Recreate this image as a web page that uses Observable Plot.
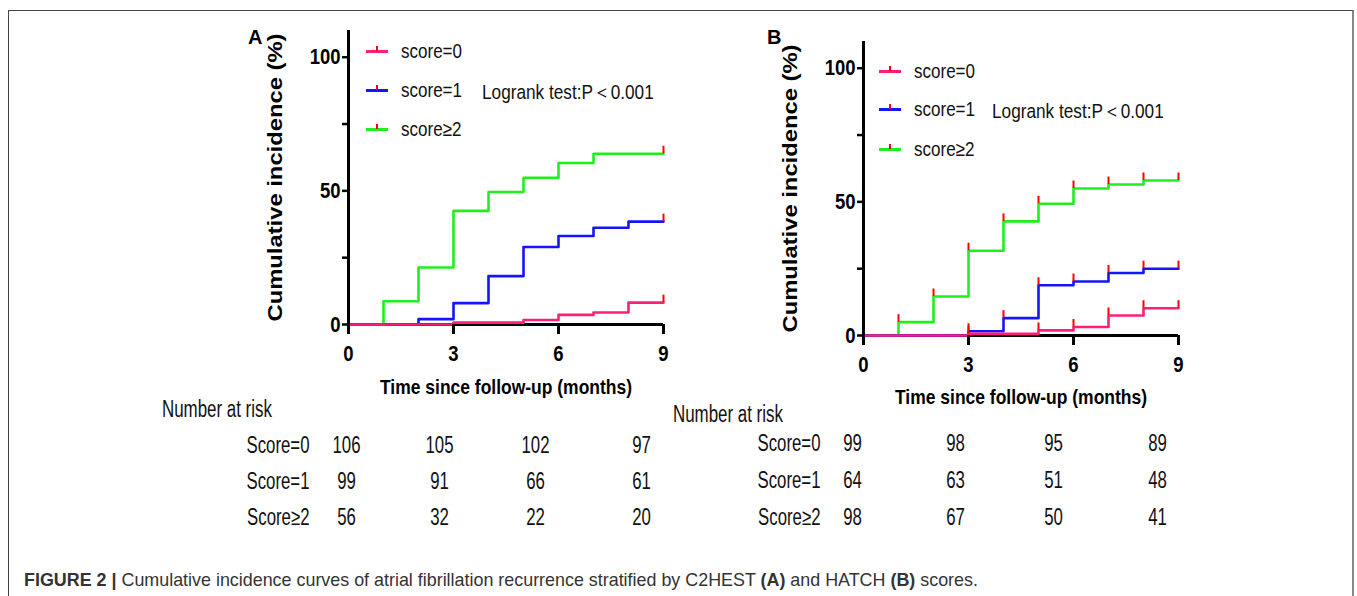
<!DOCTYPE html>
<html>
<head>
<meta charset="utf-8">
<script src="https://cdn.jsdelivr.net/npm/d3@7"></script>
<script src="https://cdn.jsdelivr.net/npm/@observablehq/plot@0.6"></script>
<style>
  html, body { margin: 0; padding: 0; background: #fff; overflow: hidden; }
  #page { position: relative; width: 1357px; height: 596px; overflow: hidden; background: #fff; }
  #frame { position: absolute; left: 8px; top: 10px; width: 1346px; height: 600px;
           border-left: 1.5px solid #444; border-top: 1.5px solid #444; border-right: 2px solid #888; box-sizing: border-box; }
  .abs { position: absolute; white-space: nowrap; }
  .narrow { font-family: "Liberation Sans", Arial, sans-serif; color: #111; transform-origin: 0 50%; }
  .panel { font-family: "Liberation Sans", Arial, sans-serif; font-weight: bold; font-size: 20px; color: #000; }
  .leg { position: absolute; height: 20px; }
  .leg .ln { position: absolute; left: 0; top: 0; width: 22px; height: 3px; }
  .leg .tk { position: absolute; left: 10px; top: -4px; width: 2px; height: 5px; background: #ff0000; }
  .leg .tx { position: absolute; left: 35px; top: -11px; font-size: 20.5px; transform: scaleX(0.83); transform-origin: 0 50%;
             font-family: "Liberation Sans", Arial, sans-serif; color: #111; }
  #caption { left: 24px; top: 570px; font-family: "Liberation Sans", Arial, sans-serif; font-size: 17.9px; color: #333; }
</style>
</head>
<body>
<div id="page">
  <div id="frame"></div>
</div>
<script>
// ---------- data ----------
const months = [0, 1, 2, 3, 4, 5, 6, 7, 8, 9];
const seriesNames = ["score=0", "score=1", "score≥2"];
const seriesColors = ["#ff1f78", "#1414ff", "#1ef01e"];

// Panel A (C2HEST) cumulative incidence (%)
const aScore0 = [0, 0, 0, 0.7, 0.7, 1.7, 3.6, 4.5, 8.2, 8.2];
const aScore1 = [0, 0, 2.0, 8.0, 18.1, 29.0, 33.1, 36.2, 38.5, 38.5];
const aScore2 = [0, 8.7, 21.3, 42.5, 49.6, 54.9, 60.4, 63.9, 63.9, 63.9];
const aCensor0 = [9];
const aCensor1 = [9];
const aCensor2 = [9];

// Panel B (HATCH) cumulative incidence (%)
const bScore0 = [0, 0, 0, 0.6, 0.6, 1.9, 3.2, 7.5, 10.2, 10.2];
const bScore1 = [0, 0, 0, 1.6, 6.5, 18.8, 20.2, 23.4, 25.0, 25.0];
const bScore2 = [0, 5.0, 14.6, 31.7, 42.7, 49.3, 55.0, 56.5, 58.0, 58.0];
const bCensor0 = [3, 5, 6, 7, 8, 9];
const bCensor1 = [3, 4, 5, 6, 7, 8, 9];
const bCensor2 = [1, 2, 3, 4, 5, 6, 7, 8, 9];

const xTicks = [0, 3, 6, 9];
const yTicksMajor = [0, 50, 100];
const yTicksMinor = [25, 75];

// Number at risk
const riskTimes = [0, 3, 6, 9];
const riskRows = ["Score=0", "Score=1", "Score≥2"];
const aRisk0 = [106, 105, 102, 97];
const aRisk1 = [99, 91, 66, 61];
const aRisk2 = [56, 32, 22, 20];
const bRisk0 = [99, 98, 95, 89];
const bRisk1 = [64, 63, 51, 48];
const bRisk2 = [98, 67, 50, 41];

const xTitle = "Time since follow-up (months)";
const yTitle = "Cumulative incidence (%)";
const logrank = "Logrank test:P＜0.001";
const riskTitle = "Number at risk";
const captionBold = "FIGURE 2 |";
const captionText = " Cumulative incidence curves of atrial fibrillation recurrence stratified by C2HEST ";

// ---------- helpers ----------
const FONT = '"Liberation Sans", Arial, sans-serif';
const page = document.getElementById("page");

function curveRows(vals) {
  const out = [];
  [2, 1, 0].forEach(i => months.forEach((m, j) => out.push({series: seriesNames[i], t: m, v: vals[i][j]})));
  return out;
}
function censorRows(vals, cens) {
  const out = [];
  [2, 1, 0].forEach(i => cens[i].forEach(t => out.push({series: seriesNames[i], t, v: vals[i][months.indexOf(t)]})));
  return out;
}

function chart(vals, cens, g) {
  const data = curveRows(vals);
  const cdata = censorRows(vals, cens);
  return Plot.plot({
    width: g.width, height: g.height,
    marginLeft: g.ml, marginRight: g.mr, marginTop: g.mt, marginBottom: g.mb,
    style: {fontFamily: FONT, color: "#000", background: "transparent", overflow: "visible"},
    x: {domain: [0, 9]},
    y: {domain: [0, 110]},
    color: {domain: seriesNames, range: seriesColors},
    marks: [
      Plot.ruleY([0], {strokeWidth: 3, stroke: "#000"}),
      Plot.line(data, {x: "t", y: "v", z: "series", stroke: "series", curve: "step-after", strokeWidth: 2.6}),
      Plot.ruleX(cdata, {x: "t", y1: "v", y2: d => d.v + 2.8, stroke: "#ff0000", strokeWidth: 2}),
      Plot.ruleX([0], {strokeWidth: 3, stroke: "#000"}),
      Plot.axisX({ticks: xTicks, tickSize: 10, strokeWidth: 3, tickPadding: 11, label: null,
                  fontSize: 22, fontWeight: "bold"}),
      Plot.axisY({ticks: yTicksMajor, tickSize: 6, strokeWidth: 2.5, tickPadding: 2, label: null,
                  fontSize: 22, fontWeight: "bold"}),
      Plot.axisY({ticks: yTicksMinor, tickSize: 6, strokeWidth: 2.5, tickFormat: () => "", label: null}),
      Plot.text([xTitle], {text: d => d, frameAnchor: "bottom", dy: g.xtdy, fontSize: 21, fontWeight: "bold"}),
      Plot.text([yTitle], {text: d => d, frameAnchor: "left", textAnchor: "middle", rotate: -90, dx: g.ytdx,
                           fontSize: 21, fontWeight: "bold"})
    ]
  });
}

function riskTable(r0, r1, r2, g) {
  const rows = [];
  [r0, r1, r2].forEach((r, i) => r.forEach((n, j) => rows.push({row: riskRows[i], t: riskTimes[j], n})));
  return Plot.plot({
    width: g.width, height: g.height,
    marginLeft: g.ml, marginRight: 10, marginTop: 10, marginBottom: 10,
    style: {fontFamily: FONT, color: "#111", background: "transparent", overflow: "visible"},
    x: {type: "linear", domain: riskTimes, range: g.xr, axis: null},
    y: {type: "point", domain: riskRows, range: g.yr, padding: 0},
    marks: [
      Plot.axisY({tickSize: 0, tickPadding: 6, label: null, fontSize: 23}),
      Plot.text(rows, {x: "t", y: "row", text: d => String(d.n), fontSize: 23, fill: "#111"})
    ]
  });
}

// condense SVG text like a narrow typeface
function condense(svg, factor, special) {
  svg.querySelectorAll("text").forEach(t => {
    const len = t.getComputedTextLength();
    if (!len) return;
    let target = len * factor;
    if (special && special[t.textContent] !== undefined) target = special[t.textContent];
    t.setAttribute("textLength", target.toFixed(1));
    t.setAttribute("lengthAdjust", "spacingAndGlyphs");
  });
}

function place(el, left, top) {
  const wrap = document.createElement("div");
  wrap.className = "abs";
  wrap.style.left = left + "px";
  wrap.style.top = top + "px";
  wrap.appendChild(el);
  page.appendChild(wrap);
  return el;
}
function addText(txt, left, top, cls, extra) {
  const d = document.createElement("div");
  d.className = "abs " + cls;
  d.style.left = left + "px";
  d.style.top = top + "px";
  d.textContent = txt;
  if (extra) Object.assign(d.style, extra);
  page.appendChild(d);
  return d;
}
function legend(left, tops) {
  seriesNames.forEach((name, i) => {
    const d = document.createElement("div");
    d.className = "leg";
    d.style.left = left + "px";
    d.style.top = tops[i] + "px";
    const ln = document.createElement("div"); ln.className = "ln"; ln.style.background = seriesColors[i];
    const tk = document.createElement("div"); tk.className = "tk";
    const tx = document.createElement("div"); tx.className = "tx"; tx.textContent = name;
    d.appendChild(ln); d.appendChild(tk); d.appendChild(tx);
    page.appendChild(d);
  });
}

// ---------- Panel A ----------
const svgA = place(chart([aScore0, aScore1, aScore2], [aCensor0, aCensor1, aCensor2],
  {width: 440, height: 410, ml: 108, mr: 17, mt: 30, mb: 86, xtdy: 69, ytdx: -73}), 240, 0);
condense(svgA, 0.84, {[yTitle]: 288, [xTitle]: 252});
legend(366, [50, 89, 128]);
addText(logrank, 482, 78, "narrow", {fontSize: "20.5px", transform: "scaleX(0.84)"});
addText("A", 248, 26, "panel");

// ---------- Panel B ----------
const svgB = place(chart([bScore0, bScore1, bScore2], [bCensor0, bCensor1, bCensor2],
  {width: 440, height: 420, ml: 103, mr: 22, mt: 41, mb: 85, xtdy: 68, ytdx: -73}), 760, 0);
condense(svgB, 0.84, {[yTitle]: 288, [xTitle]: 252});
legend(879, [70, 108, 148]);
addText(logrank, 992, 97, "narrow", {fontSize: "20.5px", transform: "scaleX(0.84)"});
addText("B", 767, 26, "panel");

// ---------- Number at risk ----------
addText(riskTitle, 162, 396, "narrow", {fontSize: "23px", transform: "scaleX(0.735)"});
addText(riskTitle, 673, 401, "narrow", {fontSize: "23px", transform: "scaleX(0.735)"});
const tA = place(riskTable(aRisk0, aRisk1, aRisk2, {width: 550, height: 120, ml: 165, xr: [196, 289, 385, 491], yr: [25, 97]}), 150, 420);
condense(tA, 0.73);
const tB = place(riskTable(bRisk0, bRisk1, bRisk2, {width: 550, height: 120, ml: 166, xr: [192, 295, 393, 497], yr: [23, 97]}), 660, 420);
condense(tB, 0.73);

// ---------- caption ----------
const cap = document.createElement("div");
cap.id = "caption"; cap.className = "abs";
const b1 = document.createElement("b"); b1.textContent = captionBold;
cap.appendChild(b1);
cap.appendChild(document.createTextNode(captionText));
const b2 = document.createElement("b"); b2.textContent = "(A)"; cap.appendChild(b2);
cap.appendChild(document.createTextNode(" and HATCH "));
const b3 = document.createElement("b"); b3.textContent = "(B)"; cap.appendChild(b3);
cap.appendChild(document.createTextNode(" scores."));
page.appendChild(cap);
</script>
</body>
</html>
